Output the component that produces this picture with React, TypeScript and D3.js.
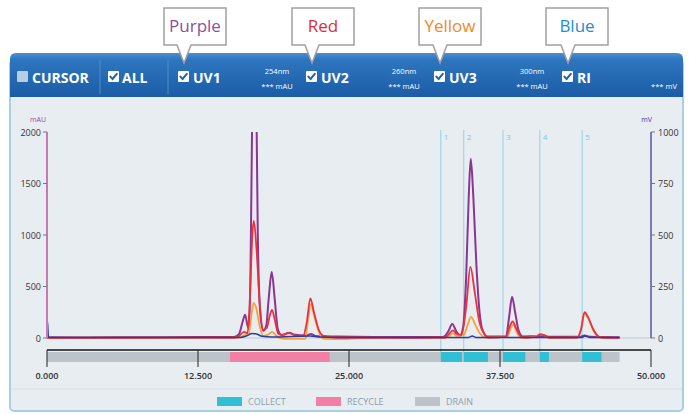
import React from "react";
import * as d3 from "d3";

// time axis (min) and the two value axes
const timeTicks = [0, 12.5, 25, 37.5, 50];
const mauTicks = [0, 500, 1000, 1500, 2000];
const mvTicks = [0, 250, 500, 750, 1000];

// fraction collector program
const fractionNames = ["1", "2", "3", "4", "5"];
const fractionStarts = [32.6, 34.5, 37.75, 40.8, 44.3];
const fractionEnds = [34.35, 36.5, 39.6, 41.55, 45.9];
const recycleRange = [15.15, 23.4];
const drainEnd = 47.4;

// header
const channels = ["UV1", "UV2", "UV3", "RI"];
const wavelengths = ["254nm", "260nm", "300nm"];
const calloutNames = ["Purple", "Red", "Yellow", "Blue"];
const calloutColors = ["#8e4f9f", "#d8303a", "#f28a20", "#1c8fd6"];
const legendNames = ["COLLECT", "RECYCLE", "DRAIN"];
const legendColors = ["#31bfd6", "#f27fa4", "#bcc4ca"];

// traces [time, value]
const uv1: [number, number][] = [
  [0, 8], [3, 6], [10, 8], [15.5, 10], [15.9, 40], [16.2, 160], [16.4, 225], [16.6, 120], [16.75, 90],
  [16.9, 1200], [17.0, 2300], [17.15, 3000], [17.33, 2300], [17.45, 1000], [17.65, 250], [17.9, 70],
  [18.15, 120], [18.35, 380], [18.6, 640], [18.85, 380], [19.1, 90], [19.4, 30], [19.8, 40], [20.1, 50],
  [20.4, 35], [21.5, 25], [21.85, 40], [22.2, 20], [24, 14], [27, 10], [32.8, 10], [33.2, 60],
  [33.55, 136], [33.9, 60], [34.2, 25], [34.45, 110], [34.7, 600], [34.92, 1400], [35.08, 1740],
  [35.28, 1400], [35.55, 700], [35.8, 260], [36.05, 80], [36.45, 15], [38.0, 15], [38.25, 200],
  [38.5, 400], [38.75, 250], [39.05, 70], [39.4, 15], [40.8, 18], [41.3, 12], [44.1, 12], [44.5, 25],
  [45.0, 12], [47.4, 8],
];
const uv2: [number, number][] = [
  [0, 2], [10, 3], [15.5, 5], [15.9, 20], [16.3, 60], [16.6, 45], [16.8, 400], [17.0, 1000],
  [17.12, 1140], [17.35, 850], [17.6, 350], [17.9, 80], [18.2, 100], [18.45, 220], [18.63, 272],
  [18.85, 180], [19.15, 40], [19.6, 30], [19.9, 50], [20.2, 45], [20.5, 25], [21.2, 20], [21.5, 150],
  [21.8, 385], [22.1, 250], [22.5, 80], [22.9, 20], [24, 5], [30, 2], [32.9, 5], [33.3, 40], [33.6, 75],
  [33.9, 40], [34.3, 30], [34.7, 300], [35.05, 690], [35.4, 450], [35.8, 150], [36.2, 40], [36.6, 5],
  [38.0, 10], [38.3, 110], [38.55, 160], [38.85, 90], [39.2, 20], [39.6, 5], [40.5, 10], [40.8, 35],
  [41.2, 25], [41.6, 5], [43.9, 5], [44.2, 80], [44.5, 250], [44.8, 200], [45.2, 90], [45.6, 20],
  [46, 5], [47.4, 2],
];
const uv3: [number, number][] = [
  [0, 0], [10, 0], [15.6, 2], [16.0, 10], [16.4, 30], [16.7, 40], [16.9, 200], [17.1, 340], [17.3, 300],
  [17.6, 120], [17.9, 20], [18.4, 40], [18.63, 60], [18.9, 30], [19.3, 0], [20, -8], [21.4, -8],
  [21.55, 120], [21.85, 330], [22.1, 220], [22.5, 60], [22.9, -8], [24.5, -10], [26, 0], [33.0, 2],
  [33.3, 20], [33.6, 45], [33.9, 20], [34.5, 30], [34.8, 120], [35.1, 205], [35.45, 130], [35.8, 50],
  [36.3, 5], [38.1, 10], [38.4, 100], [38.6, 130], [38.9, 50], [39.3, 0], [40.5, 15], [40.8, 40],
  [41.2, 25], [41.6, 0], [43.9, 3], [44.2, 80], [44.5, 240], [44.8, 190], [45.2, 80], [45.6, 15],
  [46, 0], [47.4, 0],
];
const ri: [number, number][] = [
  [0, 0], [0.03, 85], [0.12, 4], [0.5, 2], [10, 2], [16, 3], [16.5, 10], [17.0, 22], [17.4, 18],
  [17.8, 8], [18.6, 5], [21.8, 10], [22.5, 5], [25, 2], [34.9, 3], [35.2, 10], [35.5, 3], [44.3, 3],
  [44.5, 10], [44.9, 3], [47.4, 2],
];

const W = 689;
const H = 414;

const CheckBox = ({ x, y, checked }: { x: number; y: number; checked: boolean }) => (
  <g transform={`translate(${x},${y})`}>
    <rect width={11} height={11} rx={1} fill={checked ? "#ffffff" : "#b8cde0"} />
    {checked && (
      <path d="M2.3,5.6 L4.6,8 L8.8,2.8" fill="none" stroke="#1f63ad" strokeWidth={2} strokeLinecap="round" />
    )}
  </g>
);

const App = () => {
  const x = d3.scaleLinear().domain([0, 50]).range([47, 651]);
  const yL = d3.scaleLinear().domain([0, 2000]).range([338, 132]);
  const yR = d3.scaleLinear().domain([0, 1000]).range([338, 132]);

  const lineL = d3
    .line<[number, number]>()
    .x((d) => x(d[0]))
    .y((d) => yL(d[1]))
    .curve(d3.curveMonotoneX);
  const lineR = d3
    .line<[number, number]>()
    .x((d) => x(d[0]))
    .y((d) => yR(d[1]))
    .curve(d3.curveMonotoneX);

  const fmt = d3.format(".3f");
  const font = "'Open Sans', 'DejaVu Sans', sans-serif";

  const channelBoxX = [178, 306, 434, 562];
  const waveX = [277, 404, 532];
  const calloutX = [164, 292, 419, 546];

  return (
    <svg width={W} height={H} style={{ position: "absolute", left: 0, top: 0 }} fontFamily={font}>
      <defs>
        <linearGradient id="hdr" x1="0" y1="0" x2="0" y2="1">
          <stop offset="0" stopColor="#4a8fd0" />
          <stop offset="0.15" stopColor="#2e76bf" />
          <stop offset="1" stopColor="#1b5ca6" />
        </linearGradient>
        <clipPath id="plot">
          <rect x={47} y={132} width={604} height={214} />
        </clipPath>
      </defs>
      <rect width={W} height={H} fill="#ffffff" />

      {/* panel body */}
      <rect x={10} y={60} width={673} height={351} rx={4} fill="#e8edf2" stroke="#a7d0e2" strokeWidth={2} />
      <path d="M10,97 V59 Q10,53 16,53 H677 Q683,53 683,59 V97 Z" fill="url(#hdr)" />
      <line x1={100} x2={100} y1={60} y2={94} stroke="#4f8fcc" />
      <line x1={168} x2={168} y1={60} y2={94} stroke="#4f8fcc" />

      {/* header controls */}
      <CheckBox x={17} y={71} checked={false} />
      <text x={32} y={83} fill="#fff" fontSize={14} fontWeight={700}>CURSOR</text>
      <CheckBox x={108} y={71} checked />
      <text x={122} y={83} fill="#fff" fontSize={14} fontWeight={700}>ALL</text>
      {channels.map((c, i) => (
        <g key={c}>
          <CheckBox x={channelBoxX[i]} y={71} checked />
          <text x={channelBoxX[i] + 15} y={83} fill="#fff" fontSize={14} fontWeight={700}>{c}</text>
        </g>
      ))}
      {wavelengths.map((w, i) => (
        <g key={w} fill="#fff" fontSize={7.5} textAnchor="middle">
          <text x={waveX[i]} y={74}>{w}</text>
          <text x={waveX[i]} y={89}>*** mAU</text>
        </g>
      ))}
      <text x={664} y={89} fill="#fff" fontSize={7.5} textAnchor="middle">*** mV</text>

      {/* callouts */}
      {calloutNames.map((n, i) => {
        const bx = calloutX[i];
        const tip = channelBoxX[i] + 6;
        return (
          <g key={n}>
            <path
              d={`M${bx},8 H${bx + 62} V45 H${tip + 7} L${tip},63 L${tip - 7},45 H${bx} Z`}
              fill="#ffffff"
              stroke="#a0a0a0"
              strokeWidth={1.5}
            />
            <text x={bx + 31} y={32} textAnchor="middle" fontSize={17} fill={calloutColors[i]}>{n}</text>
          </g>
        );
      })}

      {/* fraction markers */}
      {fractionStarts.map((s, i) => (
        <g key={i}>
          <line x1={x(s)} x2={x(s)} y1={130} y2={362} stroke="#90d2ea" strokeWidth={1} />
          <text x={x(s) + 3} y={140} fontSize={8} fill="#7fc6e0">{fractionNames[i]}</text>
        </g>
      ))}

      {/* zero line */}
      <line x1={47} x2={651} y1={338} y2={338} stroke="#c3cad1" strokeWidth={1} />

      {/* traces */}
      <g clipPath="url(#plot)" fill="none" strokeLinejoin="round">
        <path d={lineL(uv1) ?? ""} stroke="#8b3594" strokeWidth={2} />
        <path d={lineL(uv3) ?? ""} stroke="#f6a13c" strokeWidth={1.8} />
        <path d={lineL(uv2) ?? ""} stroke="#e8323e" strokeWidth={1.8} />
        <path d={lineR(ri) ?? ""} stroke="#2d3c9a" strokeWidth={1.5} />
      </g>

      {/* left axis */}
      <line x1={47} x2={47} y1={132} y2={338} stroke="#c978b6" strokeWidth={2} />
      {mauTicks.map((t) => (
        <g key={t}>
          <line x1={43} x2={47} y1={yL(t)} y2={yL(t)} stroke="#777" />
          <text x={41} y={yL(t) + 3.5} textAnchor="end" fontSize={9} fill="#333">{t}</text>
        </g>
      ))}
      <text x={46} y={122} textAnchor="end" fontSize={7} fill="#b0409a">mAU</text>

      {/* right axis */}
      <line x1={651} x2={651} y1={132} y2={338} stroke="#5656a6" strokeWidth={1.5} />
      {mvTicks.map((t) => (
        <g key={t}>
          <line x1={651} x2={655} y1={yR(t)} y2={yR(t)} stroke="#777" />
          <text x={658} y={yR(t) + 3.5} fontSize={9} fill="#333">{t}</text>
        </g>
      ))}
      <text x={652} y={122} textAnchor="end" fontSize={7} fill="#3a3aa0">mV</text>

      {/* collector band */}
      <rect x={x(0)} y={352} width={x(drainEnd) - x(0)} height={10} fill="#bcc4ca" />
      <rect x={x(recycleRange[0])} y={352} width={x(recycleRange[1]) - x(recycleRange[0])} height={10} fill="#f27fa4" />
      {fractionStarts.map((s, i) => (
        <rect key={i} x={x(s)} y={352} width={x(fractionEnds[i]) - x(s)} height={10} fill="#31bfd6" />
      ))}

      {/* time axis */}
      <line x1={47} x2={651} y1={350} y2={350} stroke="#111" strokeWidth={1.3} />
      {timeTicks.map((t) => (
        <g key={t}>
          <line x1={x(t)} x2={x(t)} y1={350} y2={367} stroke="#222" strokeWidth={1} />
          <text x={x(t)} y={379} textAnchor="middle" fontSize={9} fontWeight={600} fill="#333">{fmt(t)}</text>
        </g>
      ))}

      {/* legend */}
      <line x1={11} x2={682} y1={389} y2={389} stroke="#d6dde3" strokeWidth={1} />
      {legendNames.map((n, i) => {
        const lx = 217 + i * 99;
        return (
          <g key={n}>
            <rect x={lx} y={397} width={25} height={9} fill={legendColors[i]} />
            <text x={lx + 31} y={405} fontSize={9} fill="#8f9da9">{n}</text>
          </g>
        );
      })}
    </svg>
  );
};

export default App;
